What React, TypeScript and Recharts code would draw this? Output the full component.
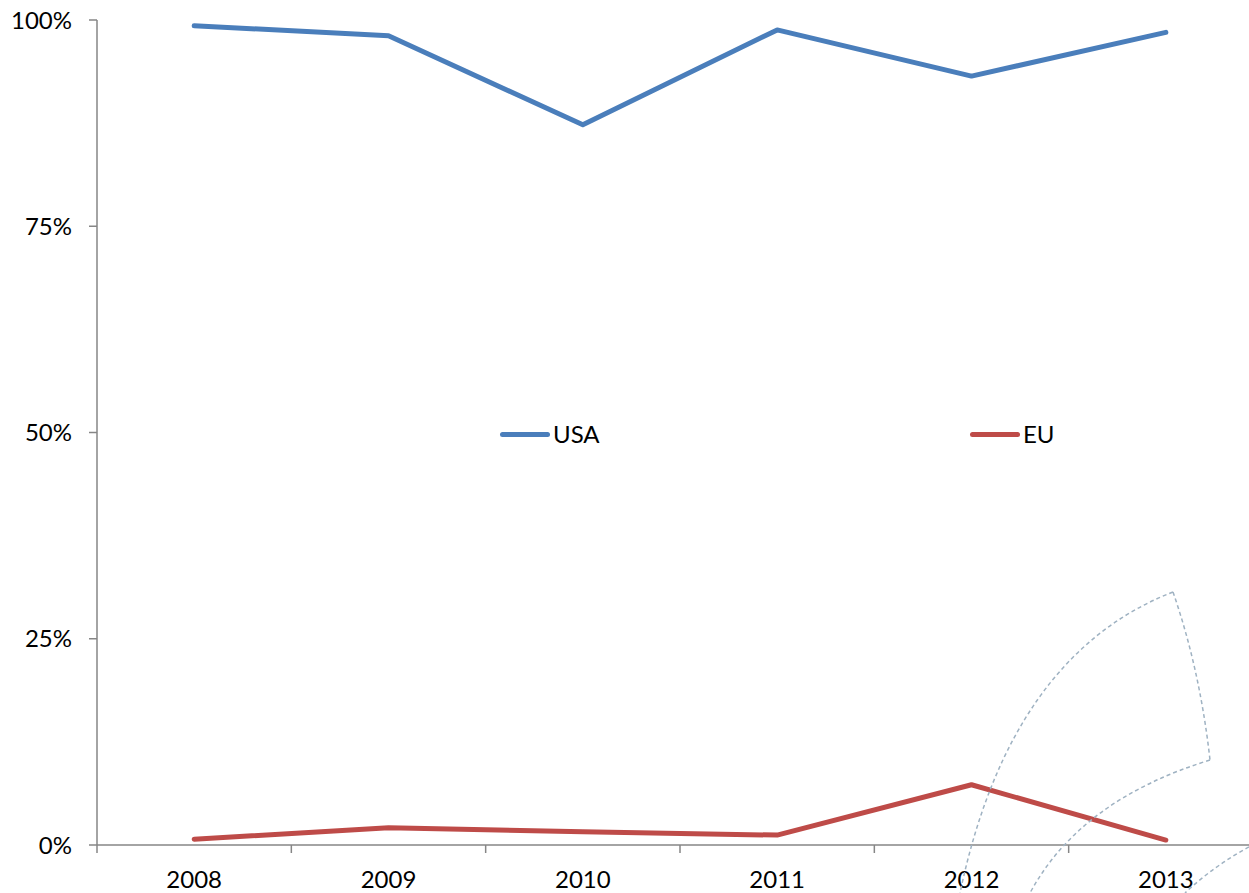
import React from 'react';
import { LineChart, Line, XAxis, YAxis } from 'recharts';

const years = ['2008', '2009', '2010', '2011', '2012', '2013'];
const usa = [99.3, 98.1, 87.3, 98.8, 93.2, 98.5];
const eu = [0.7, 2.1, 1.6, 1.2, 7.3, 0.6];
const yTicks = [0, 25, 50, 75, 100];

const data = years.map((y, i) => ({ year: y, USA: usa[i], EU: eu[i] }));

const series = [
  { key: 'USA', color: '#4a7ebb', legendX: 500 },
  { key: 'EU', color: '#be4b48', legendX: 970 },
];

const CHART_W = 1263;
const CHART_H = 893;
const Y_AXIS_W = 97;
const HALF_BAND = (CHART_W - Y_AXIS_W) / years.length / 2;
const AXIS = '#868686';
const FONT = 'Lato, "Open Sans", sans-serif';

const XTick = (props: any) => {
  const { x, y, payload, index } = props;
  return (
    <g>
      <line x1={x - HALF_BAND} y1={y} x2={x - HALF_BAND} y2={y + 8} stroke={AXIS} strokeWidth={1.5} />
      {index === years.length - 1 && (
        <line x1={x + HALF_BAND} y1={y} x2={x + HALF_BAND} y2={y + 8} stroke={AXIS} strokeWidth={1.5} />
      )}
      <text x={x} y={y + 43} textAnchor="middle" fill="#000" fontSize={24} fontFamily={FONT}>
        {payload.value}
      </text>
    </g>
  );
};

export default function App() {
  return (
    <div style={{ position: 'absolute', left: 0, top: 0, width: 1249, height: CHART_H, overflow: 'hidden', background: '#fff' }}>
      <LineChart width={CHART_W} height={CHART_H} data={data} margin={{ top: 20, right: 0, bottom: 0, left: 0 }}>
        <XAxis
          dataKey="year"
          scale="band"
          height={48}
          tickSize={0}
          tickMargin={0}
          tickLine={false}
          axisLine={{ stroke: AXIS, strokeWidth: 1.5 }}
          tick={<XTick />}
          interval={0}
        />
        <YAxis
          domain={[0, 100]}
          ticks={yTicks}
          width={Y_AXIS_W}
          tickSize={8}
          tickMargin={17}
          tickFormatter={(v: number) => `${v}%`}
          axisLine={{ stroke: AXIS, strokeWidth: 1.5 }}
          tickLine={{ stroke: AXIS, strokeWidth: 1.5 }}
          tick={{ fill: '#000', fontSize: 24, fontFamily: FONT }}
        />
        {series.map((s) => (
          <Line
            key={s.key}
            dataKey={s.key}
            stroke={s.color}
            strokeWidth={5}
            strokeLinecap="round"
            strokeLinejoin="round"
            dot={false}
            isAnimationActive={false}
          />
        ))}
      </LineChart>
      {series.map((s) => (
        <div key={s.key} style={{ position: 'absolute', left: s.legendX, top: 420, display: 'flex', alignItems: 'center' }}>
          <div style={{ width: 50, height: 5, borderRadius: 3, background: s.color, marginRight: 3 }} />
          <span style={{ fontFamily: FONT, fontSize: 24, color: '#000', lineHeight: '28px' }}>{s.key}</span>
        </div>
      ))}
      <svg width={1249} height={CHART_H} style={{ position: 'absolute', left: 0, top: 0, pointerEvents: 'none' }}>
        <g fill="none" stroke="#9fb2c2" strokeWidth={1.5} strokeDasharray="4 3">
          <path d="M 1173 592 Q 1010 655 960 893" />
          <path d="M 1173 592 Q 1200 670 1210 760" />
          <path d="M 1210 760 Q 1080 800 1030 893" />
          <path d="M 1249 847 Q 1215 865 1185 893" />
        </g>
      </svg>
    </div>
  );
}
